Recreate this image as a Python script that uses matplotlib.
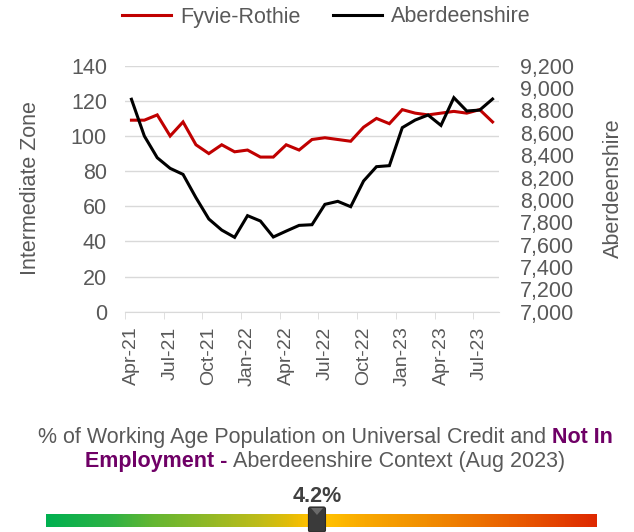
import matplotlib
matplotlib.use("Agg")
import matplotlib.pyplot as plt
import numpy as np
from matplotlib.colors import LinearSegmentedColormap
from matplotlib.patches import FancyBboxPatch, Polygon
from matplotlib.lines import Line2D

plt.rcParams['font.family'] = ['Liberation Sans', 'DejaVu Sans']

months = ["Apr-21", "May-21", "Jun-21", "Jul-21", "Aug-21", "Sep-21", "Oct-21", "Nov-21", "Dec-21",
          "Jan-22", "Feb-22", "Mar-22", "Apr-22", "May-22", "Jun-22", "Jul-22", "Aug-22", "Sep-22",
          "Oct-22", "Nov-22", "Dec-22", "Jan-23", "Feb-23", "Mar-23", "Apr-23", "May-23", "Jun-23",
          "Jul-23", "Aug-23"]
fyvie = [109, 109, 112, 100, 108, 95, 90, 95, 91, 92, 88, 88, 95, 92, 98, 99, 98, 97,
         105, 110, 107, 115, 113, 112, 113, 114, 113, 115, 108]
aberdeenshire = [8900, 8571, 8377, 8282, 8228, 8020, 7829, 7730, 7665, 7859, 7811, 7668, 7721,
                 7772, 7778, 7960, 7987, 7939, 8169, 8297, 8306, 8646, 8714, 8759, 8666, 8914,
                 8795, 8803, 8902]
left_ticks = [0, 20, 40, 60, 80, 100, 120, 140]
right_ticks = list(range(7000, 9201, 200))
gauge_value = 4.2
gauge_min, gauge_max = 0.0, 8.54

GREY = "#595959"
GRID = "#d9d9d9"
RED = "#c00000"
PURPLE = "#6f0066"
FS = 15.5

W, H = 634, 532
fig = plt.figure(figsize=(W / 100, H / 100), dpi=100)

ax = fig.add_axes([125 / W, 1 - 311.7 / H, (499 - 125) / W, (311.7 - 65.7) / H])
x = np.arange(len(months))
ax.plot(x, fyvie, color=RED, lw=2.2, solid_joinstyle='miter')
ax.set_xlim(-0.5, len(months) - 0.5)
ax.set_ylim(0, 140)
ax.set_yticks(left_ticks)
ax.grid(axis='y', color=GRID, lw=1)
ax.set_axisbelow(True)
for s in ['top', 'right', 'left']:
    ax.spines[s].set_visible(False)
ax.spines['bottom'].set_color(GRID)
ax.tick_params(axis='y', length=0, labelsize=FS, labelcolor=GREY, pad=13)
ax.set_xticks(x[::3])
ax.set_xticklabels(months[::3], rotation=90, fontsize=14, color=GREY)
ax.set_xticks(np.arange(-0.5, len(months), 3), minor=True)
ax.tick_params(axis='x', which='major', length=0, pad=10.5)
ax.tick_params(axis='x', which='minor', length=5, color=GRID)

ax2 = ax.twinx()
ax2.plot(x, aberdeenshire, color="black", lw=2.2, solid_joinstyle='miter')
ax2.set_ylim(7000, 9200)
ax2.set_yticks(right_ticks)
ax2.set_yticklabels([f"{v:,}" for v in right_ticks])
for s in ['top', 'right', 'left', 'bottom']:
    ax2.spines[s].set_visible(False)
ax2.tick_params(axis='y', length=0, labelsize=FS, labelcolor=GREY, pad=15)

fig.text(31 / W, 1 - 188.5 / H, "Intermediate Zone", rotation=90, ha='center', va='center',
         fontsize=FS, color=GREY)
fig.text(613.5 / W, 1 - 188 / H, "Aberdeenshire", rotation=90, ha='center', va='center',
         fontsize=FS, color=GREY)

handles = [Line2D([], [], color=RED, lw=2.2), Line2D([], [], color="black", lw=2.2)]
fig.legend(handles, ["Fyvie-Rothie", "Aberdeenshire"], loc='center', bbox_to_anchor=(326 / W, 1 - 17 / H),
           ncol=2, frameon=False, fontsize=FS, labelcolor=GREY, handlelength=2.3,
           columnspacing=1.5, handletextpad=0.4)

fig.canvas.draw()
r = fig.canvas.get_renderer()

def draw_line(parts, y, cx):
    texts = []
    for s, c, w in parts:
        texts.append(fig.text(0, y, s, ha='left', va='baseline', fontsize=FS, color=c, fontweight=w))
    widths = [t.get_window_extent(r).width for t in texts]
    total = sum(widths)
    xs = cx - total / 2
    for t, wd in zip(texts, widths):
        t.set_x(xs / W)
        xs += wd

draw_line([("% of Working Age Population on Universal Credit and ", GREY, 'normal'),
           ("Not In", PURPLE, 'bold')], 1 - 443 / H, 325)
draw_line([("Employment - ", PURPLE, 'bold'),
           ("Aberdeenshire Context (Aug 2023)", GREY, 'normal')], 1 - 467 / H, 325)

# Gauge bar
gx0, gx1 = 46, 597
gax = fig.add_axes([gx0 / W, 1 - 527 / H, (gx1 - gx0) / W, 13 / H])
cmap = LinearSegmentedColormap.from_list(
    "g", [(0, "#00b050"), (0.12, "#30b244"), (0.19, "#62b632"), (0.28, "#8bb828"),
          (0.39, "#c0bc18"), (0.44, "#e2bc08"), (0.475, "#ffc000"), (0.52, "#ffbe00"),
          (0.58, "#f9a800"), (0.68, "#f29000"), (0.79, "#ec7000"), (0.89, "#e65000"),
          (1.0, "#de2800")])
gax.imshow(np.linspace(0, 1, 512)[None, :], aspect='auto', cmap=cmap, extent=[gauge_min, gauge_max, 0, 1])
gax.set_xlim(gauge_min, gauge_max)
gax.set_ylim(0, 1)
gax.axis('off')

frac = (gauge_value - gauge_min) / (gauge_max - gauge_min)
mx = gx0 + frac * (gx1 - gx0)
mk = fig.add_axes([0, 0, 1, 1], facecolor='none')
mk.set_xlim(0, W)
mk.set_ylim(H, 0)
mk.axis('off')
mk.add_patch(FancyBboxPatch((mx - 8.5, 507), 17, 25, boxstyle="round,pad=0,rounding_size=2",
                            fc="#3a3a3a", ec="#2a2a2a", lw=0.8))
mk.add_patch(Polygon([[mx - 6, 508], [mx + 6, 508], [mx, 515]], closed=True, fc="#6a6a6a", ec='none'))
mk.text(mx, 502, f"{gauge_value}%", ha='center', va='baseline', fontsize=FS, fontweight='bold', color="#404040")

fig.savefig("out.png", dpi=100)
